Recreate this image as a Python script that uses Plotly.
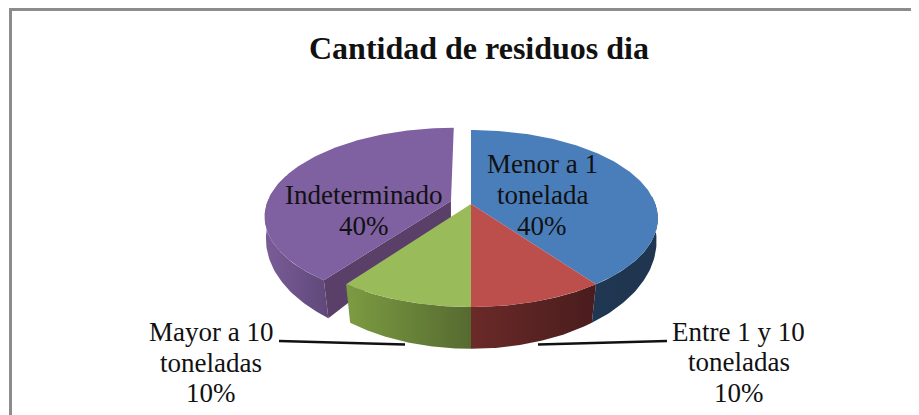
import math
import numpy as np
import plotly.graph_objects as go

categories = ["Menor a 1 tonelada", "Entre 1 y 10 toneladas", "Mayor a 10 toneladas", "Indeterminado"]
values = [40, 10, 10, 40]
top_colors = ["#4A7EBB", "#BC4E4B", "#9ABB59", "#7F60A0"]
wall_gradients = [
    ["#1F3752", "#1F3550"],
    ["#6A2A28", "#4A1C1D"],
    ["#7C9C42", "#566A30"],
    ["#7A5D98", "#5F4879"],
]
inner_wall_color = "#5A4068"
explode = [0, 0, 0, 0.115]
title_text = "Cantidad de residuos dia"
font = "Liberation Serif"

# pie geometry (perspective projection of the disk), in picture pixels
CX, CY, A, B, K = 471, 204, 184.3, 86.1, 0.164
BCY, BA, BB, BK = 227, 184.0, 106.0, 0.13


def top(X, Y):
    w = 1 + K * Y
    return CX + A * X / w, CY - B * Y / w


def bot(X, Y):
    w = 1 + BK * Y
    return CX + BA * X / w, BCY - BB * Y / w


def polar(a, ox, oy):
    return ox + math.sin(a), oy + math.cos(a)


fig = go.Figure()


def poly(xs, ys, color=None, gradient=None):
    kw = dict(fillcolor=color) if color else dict(
        fillgradient=dict(type="horizontal", colorscale=[[0, gradient[0]], [1, gradient[1]]])
    )
    fig.add_trace(go.Scatter(x=xs, y=ys, mode="lines", fill="toself", line=dict(width=0),
                             hoverinfo="skip", showlegend=False, **kw))


total = sum(values)
spans = []
acc = 0
for v in values:
    spans.append((2 * math.pi * acc / total, 2 * math.pi * (acc + v) / total))
    acc += v


def offset(i):
    mid = sum(spans[i]) / 2
    return explode[i] * math.sin(mid), explode[i] * math.cos(mid)


def draw_slice(i):
    s, e = spans[i]
    ox, oy = offset(i)
    # interior radial wall of an exploded slice
    if explode[i]:
        p = [(ox, oy), polar(s, ox, oy)]
        tp = [top(*q) for q in p]
        bp = [bot(*q) for q in p]
        ring = tp + bp[::-1]
        poly([q[0] for q in ring], [q[1] for q in ring], color=inner_wall_color)
    # outer wall: only the part facing the viewer
    vis_s, vis_e = s, e
    if i == 3:
        vis_e = math.radians(288)
    elif i == 0:
        vis_s = math.radians(85)
    angles = np.linspace(vis_s, vis_e, 60)
    arc = [polar(a, ox, oy) for a in angles]
    tp = [top(*q) for q in arc]
    bp = [bot(*q) for q in arc]
    ring = tp + bp[::-1]
    poly([q[0] for q in ring], [q[1] for q in ring], gradient=wall_gradients[i])
    # top face
    angles = np.linspace(s, e, 120)
    pts = [top(ox, oy)] + [top(*polar(a, ox, oy)) for a in angles]
    poly([q[0] for q in pts], [q[1] for q in pts], color=top_colors[i])


for i in [3, 0, 1, 2]:
    draw_slice(i)

# leader lines
fig.add_trace(go.Scatter(x=[279, 405], y=[341, 344.5], mode="lines", line=dict(color="#111111", width=2.5),
                         hoverinfo="skip", showlegend=False))
fig.add_trace(go.Scatter(x=[538, 667], y=[344.5, 341], mode="lines", line=dict(color="#111111", width=2.5),
                         hoverinfo="skip", showlegend=False))


def pct(i):
    return f"{round(100 * values[i] / total)}%"


def label(x, y_lines, lines, size=27, color="#111111", bold=False):
    for y, t in zip(y_lines, lines):
        fig.add_annotation(x=x, y=y, xref="x", yref="y", text=f"<b>{t}</b>" if bold else t, showarrow=False,
                           font=dict(family=font, size=size, color=color), xanchor="center", yanchor="middle")


label(478.5, [48], [title_text], size=32, bold=True)
label(542, [164, 195, 226], ["Menor a 1", "tonelada", pct(0)])
label(738.5, [332, 362, 393], ["Entre 1 y 10", "toneladas", pct(1)])
label(211, [332, 363, 393], ["Mayor a 10", "toneladas", pct(2)])
label(363.5, [195, 226], [categories[3], pct(3)])

# chart-area frame
frame = "#8C8C8C"
fig.add_shape(type="line", x0=9, x1=930, y0=9.5, y1=9.5, xref="x", yref="y", line=dict(color=frame, width=3))
fig.add_shape(type="line", x0=10.5, x1=10.5, y0=8, y1=425, xref="x", yref="y", line=dict(color=frame, width=3))

# the page puts the figure 8px in from the window corner, so the axes start at 8
fig.update_layout(
    width=919, height=415, margin=dict(l=0, r=0, t=0, b=0),
    paper_bgcolor="white", plot_bgcolor="white", showlegend=False,
    xaxis=dict(range=[8, 927], visible=False, fixedrange=True),
    yaxis=dict(range=[423, 8], visible=False, fixedrange=True),
)
fig.write_html("out.html", config={"displayModeBar": False})
